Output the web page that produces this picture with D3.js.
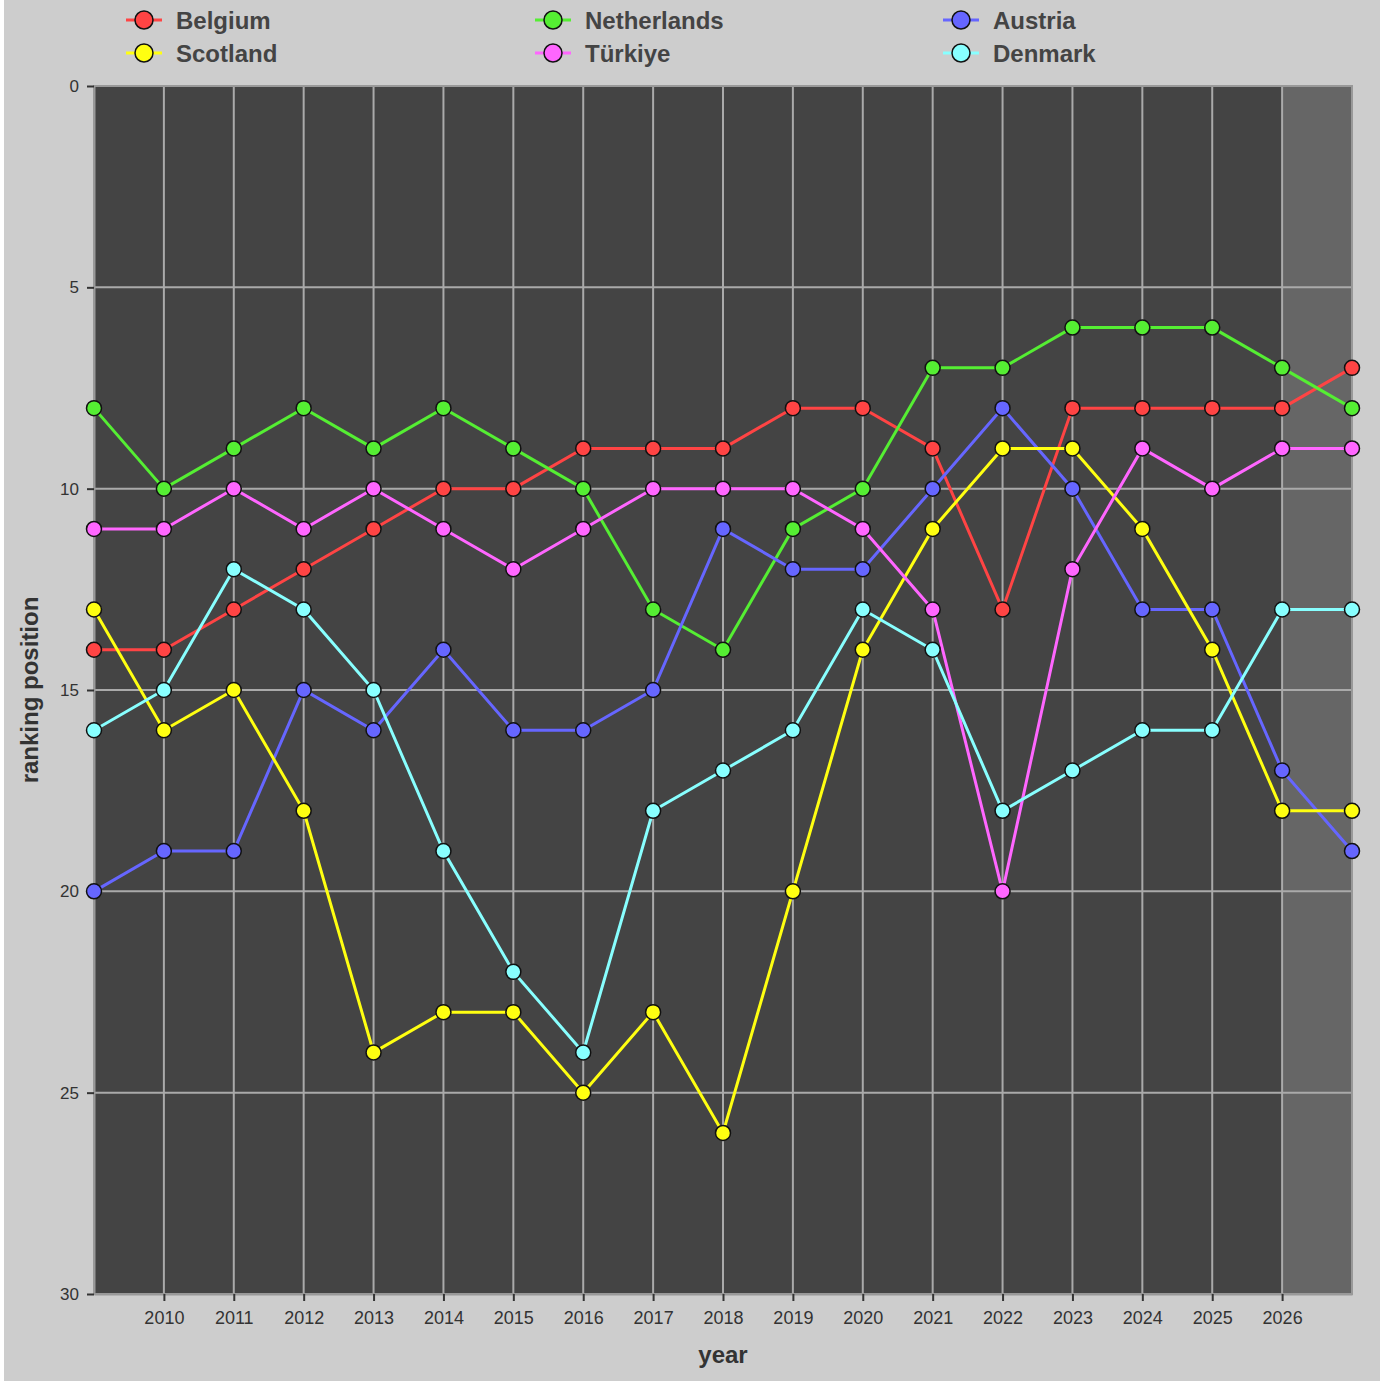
<!DOCTYPE html>
<html><head><meta charset="utf-8">
<script src="https://cdn.jsdelivr.net/npm/d3@7"></script>
<style>
html,body{margin:0;padding:0;background:#fff;}
svg{display:block;}
</style></head>
<body>
<script>
const years = [2009,2010,2011,2012,2013,2014,2015,2016,2017,2018,2019,2020,2021,2022,2023,2024,2025,2026,2027];
const tickYears = [2010,2011,2012,2013,2014,2015,2016,2017,2018,2019,2020,2021,2022,2023,2024,2025,2026];
const yTicks = [0,5,10,15,20,25,30];
const seriesNames = ["Belgium","Netherlands","Austria","Scotland","Türkiye","Denmark"];
const seriesColors = ["#ff4444","#55ee33","#6666ff","#ffff11","#ff66ff","#88ffff"];
const belgium     = [14,14,13,12,11,10,10,9,9,9,8,8,9,13,8,8,8,8,7];
const netherlands = [8,10,9,8,9,8,9,10,13,14,11,10,7,7,6,6,6,7,8];
const austria     = [20,19,19,15,16,14,16,16,15,11,12,12,10,8,10,13,13,17,19];
const scotland    = [13,16,15,18,24,23,23,25,23,26,20,14,11,9,9,11,14,18,18];
const turkiye     = [11,11,10,11,10,11,12,11,10,10,10,11,13,20,12,9,10,9,9];
const denmark     = [16,15,12,13,15,19,22,24,18,17,16,13,14,18,17,16,16,13,13];
const seriesValues = [belgium,netherlands,austria,scotland,turkiye,denmark];

const W=1380,H=1381;
const L=94,R=1352,T=86,B=1294;
const FONT="Liberation Sans, Arial, sans-serif";
const svg=d3.select("body").append("svg").attr("width",W).attr("height",H);
svg.append("rect").attr("width",W).attr("height",H).attr("fill","#fff");
svg.append("rect").attr("x",4).attr("y",0).attr("width",W-4).attr("height",H).attr("fill","#cdcdcd");

const x=d3.scaleLinear().domain([2009,2027]).range([L,R]);
const y=d3.scaleLinear().domain([0,30]).range([T,B]);

svg.append("rect").attr("x",L).attr("y",T).attr("width",R-L).attr("height",B-T).attr("fill","#444");
svg.append("rect").attr("x",x(2026)).attr("y",T).attr("width",x(2027)-x(2026)).attr("height",B-T).attr("fill","#666");

const g=svg.append("g");
g.selectAll(".vg").data(tickYears).join("line")
 .attr("x1",d=>x(d)).attr("x2",d=>x(d)).attr("y1",T).attr("y2",B)
 .attr("stroke","#aaa").attr("stroke-width",2);
g.selectAll(".hg").data(yTicks.filter(d=>d>0&&d<30)).join("line")
 .attr("x1",L).attr("x2",R).attr("y1",d=>y(d)).attr("y2",d=>y(d))
 .attr("stroke","#aaa").attr("stroke-width",2);
svg.append("rect").attr("x",L).attr("y",T).attr("width",R-L).attr("height",B-T)
 .attr("fill","none").attr("stroke","#999").attr("stroke-width",2);

const xAxis=svg.append("g").attr("transform",`translate(0,${B})`)
 .call(d3.axisBottom(x).tickValues(tickYears).tickFormat(d3.format("d")).tickSize(7).tickSizeOuter(0));
xAxis.select(".domain").attr("stroke","#999").attr("stroke-width",2);
xAxis.selectAll(".tick line").attr("stroke","#333").attr("stroke-width",2);
xAxis.selectAll("text").attr("fill","#333").attr("font-size",18).attr("font-family",FONT).attr("y",17).attr("dy","0.71em");

const yAxis=svg.append("g").attr("transform",`translate(${L},0)`)
 .call(d3.axisLeft(y).tickValues(yTicks).tickSize(7).tickSizeOuter(0));
yAxis.select(".domain").attr("stroke","#999").attr("stroke-width",2);
yAxis.selectAll(".tick line").attr("stroke","#333").attr("stroke-width",2);
yAxis.selectAll("text").attr("fill","#333").attr("font-size",17).attr("font-family",FONT).attr("x",-15);

svg.append("text").attr("x",(L+R)/2).attr("y",1363).attr("text-anchor","middle")
 .attr("font-family",FONT).attr("font-weight","bold").attr("font-size",24).attr("fill","#333").text("year");
svg.append("text").attr("transform",`translate(38,${(T+B)/2}) rotate(-90)`).attr("text-anchor","middle")
 .attr("font-family",FONT).attr("font-weight","bold").attr("font-size",24).attr("fill","#333").text("ranking position");

const line=d3.line().x((d,i)=>x(years[i])).y(d=>y(d));
seriesValues.forEach((vals,k)=>{
  svg.append("path").datum(vals).attr("d",line).attr("fill","none").attr("stroke",seriesColors[k]).attr("stroke-width",3);
});
seriesValues.forEach((vals,k)=>{
  svg.append("g").selectAll("circle").data(vals).join("circle")
   .attr("cx",(d,i)=>x(years[i])).attr("cy",d=>y(d)).attr("r",7.5)
   .attr("fill",seriesColors[k]).attr("stroke","#111").attr("stroke-width",1.5);
});

const legX=[126,535,943], legY=[20,53];
const leg=svg.append("g");
seriesNames.forEach((n,k)=>{
  const col=k%3,row=Math.floor(k/3);
  const lx=legX[col],ly=legY[row];
  leg.append("line").attr("x1",lx).attr("x2",lx+36).attr("y1",ly).attr("y2",ly).attr("stroke",seriesColors[k]).attr("stroke-width",3);
  leg.append("circle").attr("cx",lx+18).attr("cy",ly).attr("r",9).attr("fill",seriesColors[k]).attr("stroke","#111").attr("stroke-width",1.5);
  leg.append("text").attr("x",lx+50).attr("y",ly+8.5).attr("font-family",FONT)
   .attr("font-weight","bold").attr("font-size",24).attr("fill","#444").text(n);
});
</script>
</body></html>
